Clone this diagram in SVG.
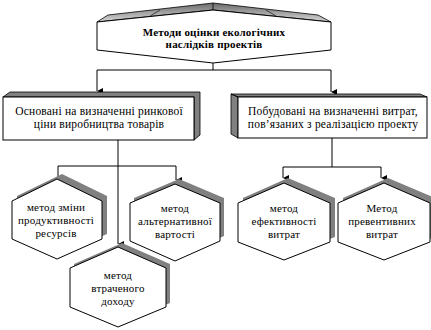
<svg xmlns="http://www.w3.org/2000/svg" width="431" height="330" viewBox="0 0 431 330">
<defs>
<linearGradient id="roof" x1="0" y1="0" x2="0" y2="1">
<stop offset="0" stop-color="#6a6a6a"/>
<stop offset="1" stop-color="#d8d8d8"/>
</linearGradient>
<marker id="arr" markerUnits="userSpaceOnUse" markerWidth="6" markerHeight="6" viewBox="0 0 6 6" refX="3" refY="6" orient="auto-start-reverse">
<path d="M0,0 L6,0 L3,6 Z" fill="#000"/>
</marker>
</defs>
<style>
.face{fill:#fff;stroke:#000;stroke-width:1}
.sh{fill:#808080;stroke:none}
.side{fill:#808080;stroke:#000;stroke-width:0.8}
.t{font-family:"Liberation Serif","Times New Roman",serif;font-size:11.5px;letter-spacing:0.2px;fill:#000;text-anchor:middle}
.tb{font-family:"Liberation Serif","Times New Roman",serif;font-size:11px;letter-spacing:0.2px;font-weight:bold;fill:#000;text-anchor:middle}
.th{font-family:"Liberation Serif","Times New Roman",serif;font-size:11px;letter-spacing:0.2px;fill:#000;text-anchor:middle}
.ln{fill:none;stroke:#000;stroke-width:1}
.ar{fill:none;stroke:#000;stroke-width:1;marker-end:url(#arr)}
</style>

<g id="connectors">
<path class="ln" d="M213,63 V70 M97,70 H331"/>
<path class="ar" d="M97,70 V91"/>
<path class="ar" d="M331,70 V92"/>
<path class="ln" d="M58,166 H176"/>
<path class="ar" d="M118,140 V244"/>
<path class="ar" d="M58,166 V178"/>
<path class="ar" d="M176,166 V180"/>
<path class="ln" d="M332,138 V167 M283,167 H381"/>
<path class="ar" d="M283,167 V178"/>
<path class="ar" d="M381,167 V178"/>
</g>

<g id="n-root">
<polygon points="97,22 108,15 213,3 318,15 331,22 213,10" fill="url(#roof)" stroke="#000" stroke-width="0.8"/>
<line x1="160" y1="10" x2="150" y2="16" stroke="#000" stroke-width="0.6"/>
<line x1="266" y1="10" x2="276" y2="16" stroke="#000" stroke-width="0.6"/>
<line x1="213" y1="3" x2="213" y2="10" stroke="#000" stroke-width="0.8"/>
<polygon class="face" points="97,22 213,10 331,22 331,50 213,63 97,50"/>
<text class="tb" x="214" y="36">Методи оцінки екологічних</text>
<text class="tb" x="214" y="48">наслідків проектів</text>
</g>

<g id="n-market">
<polygon class="side" points="3,97 10,92 200,92 200,135 194,140 194,97"/>
<rect class="face" x="3" y="97" width="191" height="43"/>
<text class="t" x="99" y="115">Основані на визначенні ринкової</text>
<text class="t" x="99" y="128">ціни виробництва товарів</text>
</g>

<g id="n-cost">
<polygon class="side" points="238,97 231,94 420,94 427,97 238,97 238,138 231,134 231,94"/>
<rect class="face" x="238" y="97" width="189" height="41"/>
<text class="t" x="333" y="115">Побудовані на визначенні витрат,</text>
<text class="t" x="333" y="128">пов’язаних з реалізацією проекту</text>
</g>

<g id="n-productivity">
<polygon class="sh" points="62,174 107,196 107,234 62,254 17,234 17,196"/>
<polygon class="face" points="57,179 102,201 102,239 57,259 12,239 12,201"/>
<text class="th" x="56" y="211">метод зміни</text>
<text class="th" x="56" y="224">продуктивності</text>
<text class="th" x="56" y="237">ресурсів</text>
</g>

<g id="n-alternative">
<polygon class="sh" points="179,179 224,198 224,236 179,256 134,236 134,198"/>
<polygon class="face" points="175,184 220,203 220,241 175,261 130,241 130,203"/>
<text class="th" x="175" y="212">метод</text>
<text class="th" x="175" y="225">альтернативної</text>
<text class="th" x="175" y="238">вартості</text>
</g>

<g id="n-lost">
<polygon class="sh" points="122,243 170,264 170,303 122,323 74,303 74,264"/>
<polygon class="face" points="118,247 166,268 166,307 118,327 70,307 70,268"/>
<text class="th" x="118" y="279">метод</text>
<text class="th" x="118" y="292">втраченого</text>
<text class="th" x="118" y="305">доходу</text>
</g>

<g id="n-efficiency">
<polygon class="sh" points="288,178 335,198 335,237 288,255 243,237 243,198"/>
<polygon class="face" points="284,183 330,203 330,242 284,260 238,242 238,203"/>
<text class="th" x="284" y="212">метод</text>
<text class="th" x="284" y="225">ефективності</text>
<text class="th" x="284" y="238">витрат</text>
</g>

<g id="n-preventive">
<polygon class="sh" points="388,178 435,198 435,237 388,255 343,237 343,198"/>
<polygon class="face" points="384,183 430,203 430,242 384,260 338,242 338,203"/>
<text class="th" x="382" y="212">Метод</text>
<text class="th" x="382" y="225">превентивних</text>
<text class="th" x="382" y="238">витрат</text>
</g>
</svg>
